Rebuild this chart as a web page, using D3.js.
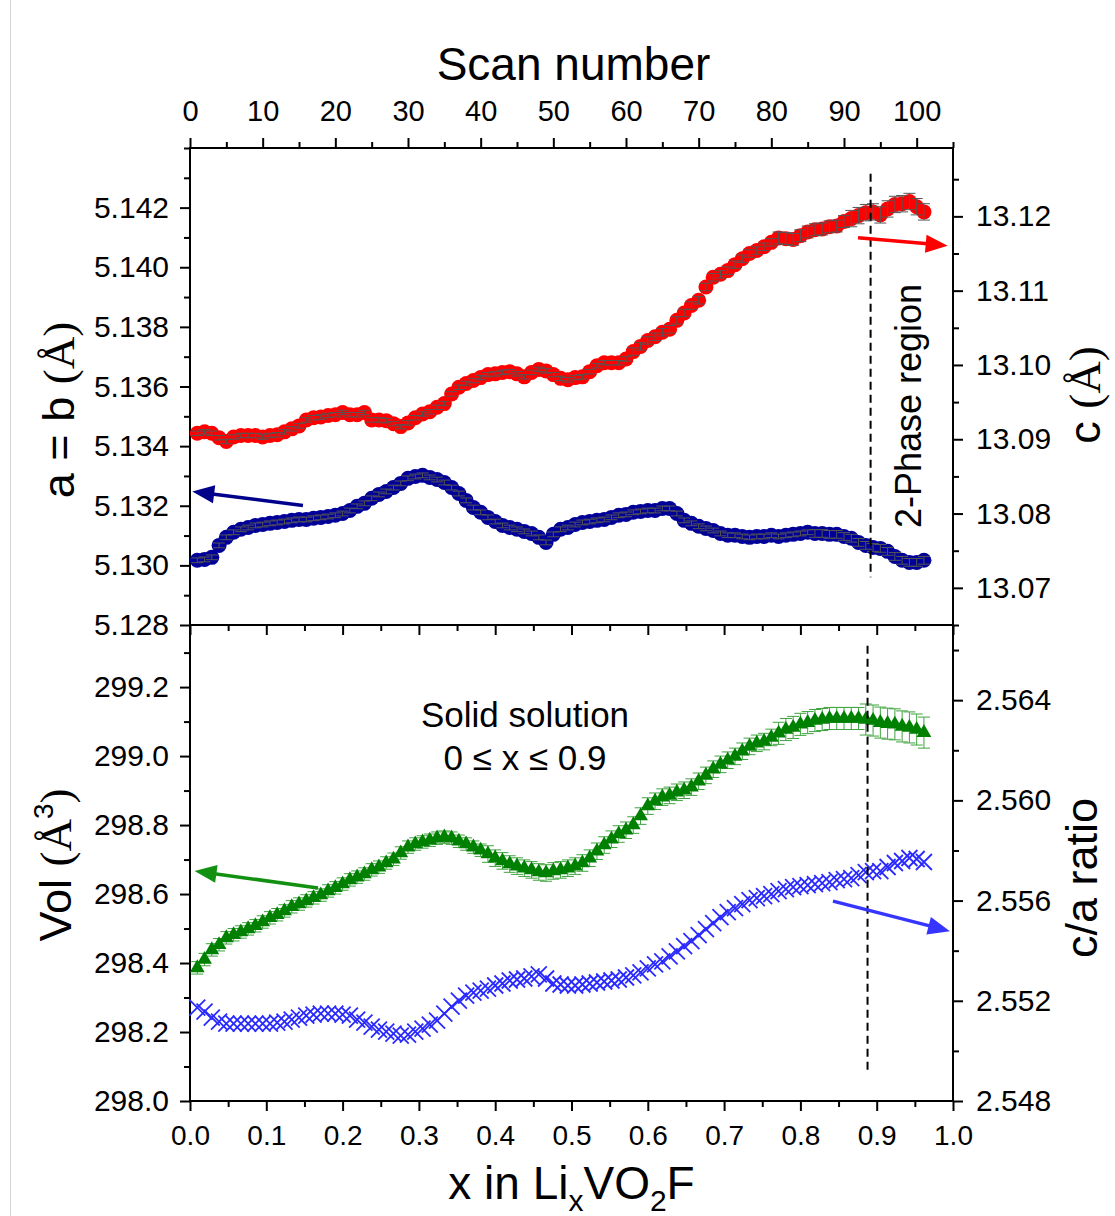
<!DOCTYPE html>
<html><head><meta charset="utf-8">
<script src="https://cdn.jsdelivr.net/npm/d3@7"></script>
<style>
body{margin:0;background:#fff}
svg{display:block}
text{font-family:"Liberation Sans",Arial,sans-serif;fill:#000}
</style>
</head><body>
<svg id="chart" width="1115" height="1216"></svg>
<script>
// ---------------- data ----------------
const scanNumbers = d3.range(1, 102); // scans 1..101

// c lattice parameter (right axis, top panel) – red circles
const cParam = [
13.0908,13.0910,13.0908,13.0902,13.0897,13.0903,13.0905,13.0905,13.0905,13.0903,
13.0905,13.0906,13.0910,13.0914,13.0918,13.0926,13.0929,13.0930,13.0932,13.0933,
13.0936,13.0933,13.0933,13.0936,13.0926,13.0926,13.0925,13.0921,13.0917,13.0922,
13.0929,13.0934,13.0937,13.0943,13.0948,13.0961,13.0970,13.0975,13.0979,13.0983,
13.0987,13.0988,13.0990,13.0991,13.0988,13.0984,13.0990,13.0994,13.0992,13.0987,
13.0982,13.0980,13.0983,13.0984,13.0991,13.0999,13.1003,13.1003,13.1003,13.1008,
13.1018,13.1025,13.1033,13.1038,13.1044,13.1048,13.1060,13.1070,13.1080,13.1087,
13.1105,13.1118,13.1122,13.1127,13.1135,13.1143,13.1150,13.1154,13.1159,13.1165,
13.1171,13.1170,13.1169,13.1174,13.1179,13.1182,13.1183,13.1186,13.1187,13.1193,
13.1197,13.1201,13.1205,13.1206,13.1202,13.1210,13.1216,13.1217,13.1220,13.1213,13.1206];

// a = b lattice parameter (left axis, top panel) – navy circles
const aParam = [
5.13017,5.13020,5.13027,5.13067,5.13094,5.13111,5.13121,5.13127,5.13134,5.13137,
5.13141,5.13144,5.13147,5.13151,5.13154,5.13154,5.13158,5.13161,5.13164,5.13168,
5.13174,5.13184,5.13198,5.13208,5.13225,5.13238,5.13248,5.13261,5.13275,5.13292,
5.13298,5.13302,5.13295,5.13288,5.13278,5.13261,5.13241,5.13218,5.13194,5.13178,
5.13161,5.13147,5.13134,5.13127,5.13121,5.13114,5.13107,5.13094,5.13077,5.13104,
5.13121,5.13127,5.13137,5.13144,5.13147,5.13151,5.13154,5.13161,5.13168,5.13171,
5.13178,5.13181,5.13184,5.13184,5.13191,5.13191,5.13174,5.13151,5.13141,5.13131,
5.13124,5.13117,5.13107,5.13101,5.13101,5.13097,5.13094,5.13097,5.13097,5.13101,
5.13097,5.13101,5.13104,5.13107,5.13111,5.13107,5.13107,5.13104,5.13104,5.13097,
5.13091,5.13077,5.13067,5.13060,5.13057,5.13047,5.13030,5.13017,5.13010,5.13010,5.13017];

// cell volume (left axis, bottom panel) – green triangles
const volume = [
298.386,298.410,298.438,298.453,298.473,298.482,298.490,298.499,298.508,298.519,
298.531,298.540,298.551,298.563,298.571,298.580,298.589,298.597,298.609,298.618,
298.629,298.641,298.649,298.658,298.670,298.678,298.690,298.701,298.719,298.736,
298.745,298.751,298.756,298.762,298.765,298.762,298.753,298.745,298.736,298.727,
298.716,298.704,298.696,298.687,298.681,298.675,298.670,298.664,298.661,298.667,
298.670,298.675,298.681,298.690,298.704,298.724,298.742,298.759,298.774,298.785,
298.800,298.826,298.855,298.869,298.881,298.886,298.895,298.901,298.910,298.927,
298.944,298.962,298.976,298.988,298.999,299.014,299.028,299.037,299.042,299.054,
299.066,299.077,299.083,299.092,299.097,299.103,299.106,299.109,299.109,299.109,
299.109,299.109,299.106,299.103,299.097,299.094,299.092,299.086,299.083,299.077,299.068];

// c/a ratio (right axis, bottom panel) – blue crosses
const caRatio = [
2.55173,2.55157,2.55133,2.55117,2.55109,2.55109,2.55109,2.55109,2.55109,2.55109,
2.55109,2.55113,2.55117,2.55125,2.55133,2.55141,2.55145,2.55149,2.55149,2.55149,
2.55145,2.55141,2.55125,2.55113,2.55097,2.55085,2.55077,2.55069,2.55061,2.55065,
2.55077,2.55089,2.55105,2.55121,2.55149,2.55177,2.55201,2.55221,2.55233,2.55241,
2.55249,2.55261,2.55269,2.55281,2.55285,2.55289,2.55297,2.55305,2.55289,2.55269,
2.55265,2.55261,2.55261,2.55265,2.55269,2.55273,2.55277,2.55281,2.55285,2.55293,
2.55301,2.55313,2.55329,2.55345,2.55357,2.55377,2.55397,2.55418,2.55438,2.55462,
2.55486,2.55510,2.55534,2.55554,2.55570,2.55586,2.55602,2.55610,2.55618,2.55626,
2.55638,2.55646,2.55654,2.55658,2.55662,2.55666,2.55670,2.55674,2.55682,2.55686,
2.55690,2.55702,2.55714,2.55718,2.55718,2.55734,2.55750,2.55758,2.55770,2.55766,2.55754];

// error bar half-widths by scan range: [fromScan, toScan, err]
const errCRanges = [[1,60,0.0003],[61,80,0.0005],[81,90,0.0008],[91,101,0.0011]];
const errARanges = [[1,85,0.00008],[86,101,0.00013]];
const errVRanges = [[1,40,0.018],[41,80,0.024],[81,92,0.032],[93,101,0.045]];

// ticks
const scanTicks = [0,10,20,30,40,50,60,70,80,90,100];
const xTicks = [0.0,0.1,0.2,0.3,0.4,0.5,0.6,0.7,0.8,0.9,1.0];
const aTicks = [5.128,5.130,5.132,5.134,5.136,5.138,5.140,5.142];
const cTicks = [13.07,13.08,13.09,13.10,13.11,13.12];
const vTicks = [298.0,298.2,298.4,298.6,298.8,299.0,299.2];
const rTicks = [2.548,2.552,2.556,2.560,2.564];

// annotations (data units)
const twoPhaseX = 0.892;
const arrows = [
  {panel:"a", from:[0.148,5.13201], to:[0.003,5.13248], color:"#00008b"},
  {panel:"c", from:[0.8755,13.11713], to:[0.993,13.11606], color:"#ff0000"},
  {panel:"v", from:[0.1678,298.6176], to:[0.006,298.667], color:"#129012"},
  {panel:"r", from:[0.8427,2.55598], to:[0.996,2.55478], color:"#3535ff"}
];

// ---------------- layout ----------------
const L = 190, R = 953, T1 = 148, M = 625, B2 = 1101;
const svg = d3.select("#chart");
svg.append("rect").attr("width",1115).attr("height",1216).attr("fill","#fff");
svg.append("line").attr("x1",10.5).attr("x2",10.5).attr("y1",0).attr("y2",1216)
   .attr("stroke","#d4d4d4").attr("stroke-width",1);

const x = d3.scaleLinear([0,1],[L,R]);
const xs = d3.scaleLinear([0,105],[L,R]);
const yA = d3.scaleLinear([5.128,5.144],[M,T1]);
const yC = d3.scaleLinear([13.065,13.1292],[M,T1]);
const yV = d3.scaleLinear([298.0,299.38],[B2,M]);
const yR = d3.scaleLinear([2.548,2.567],[B2,M]);
const sc = {a:yA, c:yC, v:yV, r:yR};

function errFor(ranges, s){ for(const r of ranges) if(s>=r[0]&&s<=r[1]) return r[2]; return 0; }

// ---------------- axes ----------------
function drawAxis(gen, scale, majors, minorStep, fmt, tr, fontSize, pad){
  const dom = scale.domain();
  const lo = Math.min(dom[0],dom[1]), hi = Math.max(dom[0],dom[1]);
  const minors = [];
  const start = Math.ceil(lo/minorStep - 1e-9);
  for(let k=start; k*minorStep<=hi+1e-9; k++){
    const v = +(k*minorStep).toFixed(6);
    if(!majors.some(m=>Math.abs(m-v)<minorStep*1e-3)) minors.push(v);
  }
  const g1 = svg.append("g").attr("transform",tr)
    .call(gen(scale).tickValues(minors).tickSize(6).tickFormat(""));
  g1.select(".domain").remove();
  const g2 = svg.append("g").attr("transform",tr)
    .call(gen(scale).tickValues(majors).tickSize(10).tickPadding(pad).tickFormat(fmt));
  g2.select(".domain").remove();
  svg.selectAll("g .tick line").attr("stroke","#000").attr("stroke-width",2);
  g2.selectAll("text").attr("font-size",fontSize).attr("font-family","Liberation Sans, Arial, sans-serif").attr("fill","#000");
}
drawAxis(d3.axisTop, xs, scanTicks, 5, d3.format("d"), `translate(0,${T1})`, 29, 17);
drawAxis(d3.axisBottom, x, xTicks, 0.05, d3.format(".1f"), `translate(0,${B2})`, 28, 14);
drawAxis(d3.axisBottom, x, xTicks, 0.05, "", `translate(0,${M})`, 28, 14);
drawAxis(d3.axisLeft, yA, aTicks, 0.001, d3.format(".3f"), `translate(${L},0)`, 30, 11);
drawAxis(d3.axisRight, yC, cTicks, 0.005, d3.format(".2f"), `translate(${R},0)`, 30, 13);
drawAxis(d3.axisLeft, yV, vTicks, 0.1, d3.format(".1f"), `translate(${L},0)`, 30, 11);
drawAxis(d3.axisRight, yR, rTicks, 0.002, d3.format(".3f"), `translate(${R},0)`, 30, 13);

// frames
[[T1,M],[M,B2]].forEach(([t,b])=>{
  svg.append("rect").attr("x",L).attr("y",t).attr("width",R-L).attr("height",b-t)
    .attr("fill","none").attr("stroke","#000").attr("stroke-width",2);
});

// ---------------- data marks ----------------
function errorBars(vals, yScale, ranges, color, capW){
  const g = svg.append("g").attr("stroke",color).attr("stroke-width",1).attr("fill","none");
  vals.forEach((v,i)=>{
    const s = scanNumbers[i], e = errFor(ranges,s), cx = xs(s);
    const y1 = yScale(v+e), y2 = yScale(v-e);
    g.append("line").attr("x1",cx).attr("x2",cx).attr("y1",y1).attr("y2",y2);
    g.append("line").attr("x1",cx-capW).attr("x2",cx+capW).attr("y1",y1).attr("y2",y1);
    g.append("line").attr("x1",cx-capW).attr("x2",cx+capW).attr("y1",y2).attr("y2",y2);
  });
}

// red circles (c)
svg.append("g").selectAll("circle").data(cParam).join("circle")
  .attr("cx",(d,i)=>xs(scanNumbers[i])).attr("cy",d=>yC(d)).attr("r",7.5).attr("fill","#ff0000");
errorBars(cParam, yC, errCRanges, "#555", 6);

// navy circles (a)
svg.append("g").selectAll("circle").data(aParam).join("circle")
  .attr("cx",(d,i)=>xs(scanNumbers[i])).attr("cy",d=>yA(d)).attr("r",7.5).attr("fill","#000099");
errorBars(aParam, yA, errARanges, "#555", 6);

// green triangles (V)
errorBars(volume, yV, errVRanges, "#3fa33f", 6);
const tri = d3.symbol().type(d3.symbolTriangle).size(95);
svg.append("g").selectAll("path").data(volume).join("path")
  .attr("d",tri).attr("transform",(d,i)=>`translate(${xs(scanNumbers[i])},${yV(d)})`)
  .attr("fill","#008000");

// blue crosses (c/a)
svg.append("g").selectAll("path").data(caRatio).join("path")
  .attr("d","M-8,-8L8,8M-8,8L8,-8")
  .attr("transform",(d,i)=>`translate(${xs(scanNumbers[i])},${yR(d)})`)
  .attr("stroke","#2a2aff").attr("stroke-width",1.8).attr("fill","none");

// ---------------- annotations ----------------
svg.append("line").attr("x1",x(twoPhaseX)).attr("x2",x(twoPhaseX))
  .attr("y1",yA(5.14314)).attr("y2",yA(5.1296))
  .attr("stroke","#000").attr("stroke-width",2).attr("stroke-dasharray","8,5");
svg.append("line").attr("x1",x(twoPhaseX-0.004)).attr("x2",x(twoPhaseX-0.004))
  .attr("y1",yV(299.32)).attr("y2",yV(298.086))
  .attr("stroke","#000").attr("stroke-width",2).attr("stroke-dasharray","8,5");

arrows.forEach(a=>{
  const ys = sc[a.panel];
  const x1 = x(a.from[0]), y1 = ys(a.from[1]), x2 = x(a.to[0]), y2 = ys(a.to[1]);
  const dx = x2-x1, dy = y2-y1, len = Math.hypot(dx,dy), ux = dx/len, uy = dy/len;
  const hl = 22, hw = 9;
  const bx = x2-ux*hl, by = y2-uy*hl;
  svg.append("line").attr("x1",x1).attr("y1",y1).attr("x2",bx+ux*2).attr("y2",by+uy*2)
    .attr("stroke",a.color).attr("stroke-width",3.5);
  svg.append("path")
    .attr("d",`M${x2},${y2}L${bx-uy*hw},${by+ux*hw}L${bx+uy*hw},${by-ux*hw}Z`)
    .attr("fill",a.color);
});

svg.append("text").attr("x",525).attr("y",727).attr("text-anchor","middle")
  .attr("font-size",35).text("Solid solution");
svg.append("text").attr("x",525).attr("y",770).attr("text-anchor","middle")
  .attr("font-size",35).text("0 \u2264 x \u2264 0.9");
svg.append("text").attr("transform","translate(921,406) rotate(-90)").attr("text-anchor","middle")
  .attr("font-size",36).text("2-Phase region");

// axis titles
svg.append("text").attr("x",(L+R)/2+2).attr("y",80).attr("text-anchor","middle")
  .attr("font-size",46).text("Scan number");
const xt = svg.append("text").attr("x",(L+R)/2).attr("y",1199).attr("text-anchor","middle").attr("font-size",46);
xt.append("tspan").text("x in Li");
xt.append("tspan").attr("font-size",30).attr("dy",12).text("x");
xt.append("tspan").attr("dy",-12).text("VO");
xt.append("tspan").attr("font-size",30).attr("dy",12).text("2");
xt.append("tspan").attr("dy",-12).text("F");

const serif = "Liberation Serif, Times New Roman, serif";
const ta = svg.append("text").attr("transform","translate(74,410) rotate(-90)").attr("text-anchor","middle").attr("font-size",45);
ta.append("tspan").text("a = b ");
ta.append("tspan").attr("font-family",serif).text("(\u00c5)");

const tc = svg.append("text").attr("transform","translate(1100,395) rotate(-90)").attr("text-anchor","middle").attr("font-size",45);
tc.append("tspan").text("c ");
tc.append("tspan").attr("font-family",serif).text("(\u00c5)");

const tv = svg.append("text").attr("transform","translate(71,865) rotate(-90)").attr("text-anchor","middle").attr("font-size",45);
tv.append("tspan").text("Vol ");
tv.append("tspan").attr("font-family",serif).text("(\u00c5");
tv.append("tspan").attr("font-size",28).attr("dy",-18).text("3");
tv.append("tspan").attr("font-family",serif).attr("dy",18).text(")");

svg.append("text").attr("transform","translate(1097,878) rotate(-90)").attr("text-anchor","middle")
  .attr("font-size",45).text("c/a ratio");
</script>
</body></html>
